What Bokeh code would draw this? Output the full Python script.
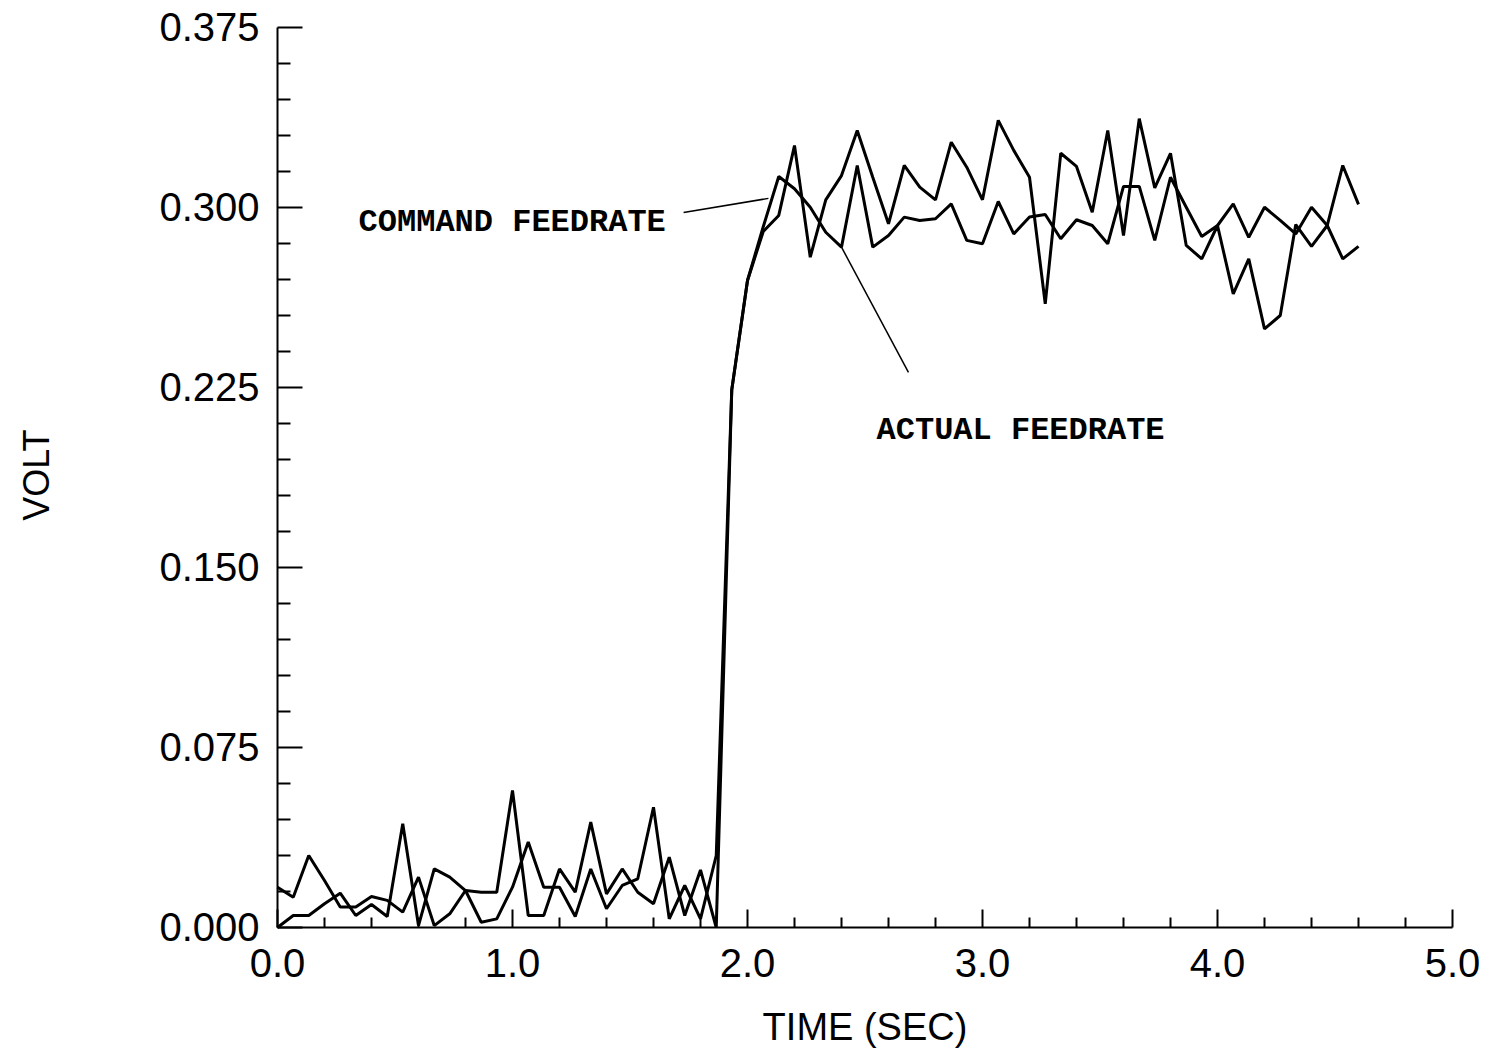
import math
from bokeh.plotting import figure
from bokeh.models import Range1d, FixedTicker, NumeralTickFormatter, Label
from bokeh.embed import file_html
from bokeh.resources import INLINE

# ---- data (sampled every 1/15 s) ----
time_sec = [0.0, 0.067, 0.133, 0.2, 0.267, 0.333, 0.4, 0.467, 0.533, 0.6,
            0.667, 0.733, 0.8, 0.867, 0.933, 1.0, 1.067, 1.133, 1.2, 1.267,
            1.333, 1.4, 1.467, 1.533, 1.6, 1.667, 1.733, 1.8, 1.867, 1.933,
            2.0, 2.067, 2.133, 2.2, 2.267, 2.333, 2.4, 2.467, 2.533, 2.6,
            2.667, 2.733, 2.8, 2.867, 2.933, 3.0, 3.067, 3.133, 3.2, 3.267,
            3.333, 3.4, 3.467, 3.533, 3.6, 3.667, 3.733, 3.8, 3.867, 3.933,
            4.0, 4.067, 4.133, 4.2, 4.267, 4.333, 4.4, 4.467, 4.533, 4.6]

command_feedrate = [0.0, 0.005, 0.005, 0.0099, 0.0143, 0.005, 0.0096, 0.0046, 0.0432, 0.0008,
                    0.0244, 0.021, 0.0154, 0.0022, 0.0036, 0.0168, 0.0356, 0.0168, 0.0168, 0.0046,
                    0.0244, 0.0078, 0.0175, 0.0203, 0.0501, 0.0036, 0.0175, 0.0036, 0.030,
                    0.224, 0.2696, 0.292, 0.3129, 0.3078, 0.3001, 0.2897, 0.2835, 0.3175, 0.2835,
                    0.2883, 0.2960, 0.2946, 0.2953, 0.3015, 0.2863, 0.2849, 0.3025, 0.289, 0.296,
                    0.2971, 0.287, 0.2949, 0.2925, 0.2849, 0.3088, 0.3088, 0.2863, 0.3126, 0.3001,
                    0.2879, 0.2925, 0.3015, 0.2876, 0.3001, 0.2946, 0.289, 0.3001, 0.2925, 0.2786,
                    0.2838]

actual_feedrate = [0.0168, 0.0126, 0.030, 0.0196, 0.0085, 0.0085, 0.0129, 0.0113, 0.0064, 0.021,
                   0.0008, 0.0057, 0.0154, 0.0147, 0.0147, 0.0571, 0.005, 0.005, 0.0244, 0.0147,
                   0.0439, 0.014, 0.0244, 0.0147, 0.0099, 0.0293, 0.005, 0.024, 0.0,
                   0.224, 0.2696, 0.290, 0.2967, 0.3258, 0.2793, 0.3032, 0.3133, 0.3321, 0.3126,
                   0.2932, 0.3175, 0.3085, 0.3032, 0.3272, 0.3168, 0.3032, 0.3363, 0.3238, 0.3126,
                   0.2599, 0.3226, 0.3171, 0.298, 0.3321, 0.2883, 0.337, 0.3082, 0.3226, 0.2842,
                   0.2786, 0.2925, 0.2640, 0.2786, 0.2494, 0.255, 0.2929, 0.2838, 0.2925, 0.3175,
                   0.3013]

x_major_ticks = [0.0, 1.0, 2.0, 3.0, 4.0, 5.0]
x_minor_ticks = [0.2, 0.4, 0.6, 0.8, 1.2, 1.4, 1.6, 1.8, 2.2, 2.4, 2.6, 2.8,
                 3.2, 3.4, 3.6, 3.8, 4.2, 4.4, 4.6, 4.8]
y_major_ticks = [0.0, 0.075, 0.150, 0.225, 0.300, 0.375]
y_minor_ticks = [0.015, 0.030, 0.045, 0.060, 0.090, 0.105, 0.120, 0.135,
                 0.165, 0.180, 0.195, 0.210, 0.240, 0.255, 0.270, 0.285,
                 0.315, 0.330, 0.345, 0.360]
x_axis_bounds = (0.0, 5.0)
y_axis_bounds = (0.0, 0.375)

x_title = "TIME (SEC)"
y_title = "VOLT"

# view window (data units) so that the axes sit where the original draws them
view_x = (-1.1787, 5.2255)
view_y = (-0.05167, 0.38625)

# annotation text and leader anchors (data units)
command_label = "COMMAND FEEDRATE"
actual_label = "ACTUAL FEEDRATE"
command_label_pos = (0.345, 0.2938)
actual_label_pos = (2.549, 0.2071)
command_leader = ([1.728, 2.089], [0.2979, 0.3038])
actual_leader = ([2.685, 2.396], [0.2313, 0.2842])
x_title_pos = (2.5, -0.0415)
y_title_pos = (-1.027, 0.1885)

p = figure(width=1505, height=1051, output_backend="svg", toolbar_location=None,
           x_range=Range1d(*view_x), y_range=Range1d(*view_y),
           min_border=0)
p.outline_line_color = None
p.xgrid.visible = False
p.ygrid.visible = False
p.background_fill_color = "white"
p.border_fill_color = "white"

p.line(time_sec, command_feedrate, line_color="black", line_width=3)
p.line(time_sec, actual_feedrate, line_color="black", line_width=3)

p.line(command_leader[0], command_leader[1], line_color="black", line_width=1.5)
p.line(actual_leader[0], actual_leader[1], line_color="black", line_width=1.5)

for txt, pos in ((command_label, command_label_pos), (actual_label, actual_label_pos)):
    p.add_layout(Label(x=pos[0], y=pos[1], text=txt, text_font="Liberation Mono",
                       text_font_style="bold", text_font_size="32px",
                       text_color="black", text_baseline="alphabetic", text_align="left"))

font = "Liberation Sans"
p.add_layout(Label(x=x_title_pos[0], y=x_title_pos[1], text=x_title, text_font=font,
                   text_font_size="38px", text_color="black",
                   text_baseline="middle", text_align="center"))
p.add_layout(Label(x=y_title_pos[0], y=y_title_pos[1], text=y_title, text_font=font,
                   text_font_size="36px", text_color="black", angle=math.pi / 2,
                   text_baseline="middle", text_align="center"))

for ax in (p.xaxis[0], p.yaxis[0]):
    ax.axis_line_color = "black"
    ax.axis_line_width = 2
    ax.major_tick_line_color = "black"
    ax.major_tick_line_width = 2
    ax.minor_tick_line_color = "black"
    ax.minor_tick_line_width = 2
    ax.major_tick_out = 0
    ax.minor_tick_out = 0
    ax.major_label_text_font = font
    ax.major_label_text_font_size = "40px"
    ax.major_label_text_color = "black"
    ax.fixed_location = 0

p.xaxis.bounds = x_axis_bounds
p.yaxis.bounds = y_axis_bounds
p.xaxis.ticker = FixedTicker(ticks=x_major_ticks, minor_ticks=x_minor_ticks)
p.yaxis.ticker = FixedTicker(ticks=y_major_ticks, minor_ticks=y_minor_ticks)
p.xaxis.formatter = NumeralTickFormatter(format="0.0")
p.yaxis.formatter = NumeralTickFormatter(format="0.000")

p.xaxis.major_tick_in = 18
p.xaxis.minor_tick_in = 10
p.yaxis.major_tick_in = 25
p.yaxis.minor_tick_in = 13
p.xaxis.major_label_standoff = 22
p.yaxis.major_label_standoff = 18

open("out.html", "w").write(file_html(p, INLINE))
